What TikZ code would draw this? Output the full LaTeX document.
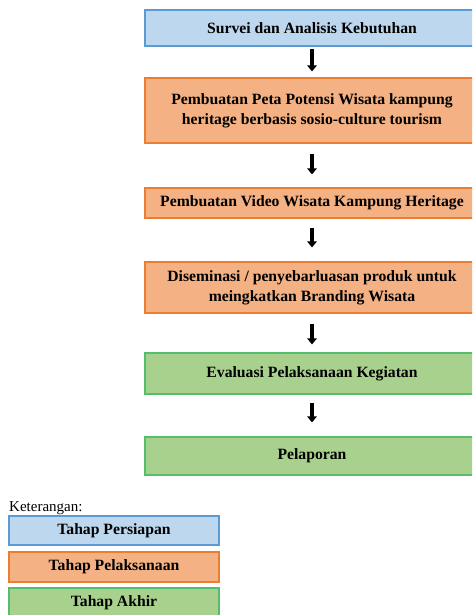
\documentclass[tikz,border=0pt]{standalone}
\usepackage{fontspec}
\setmainfont{Liberation Serif}
\definecolor{prepfill}{RGB}{189,215,238}
\definecolor{prepline}{RGB}{91,155,213}
\definecolor{implfill}{RGB}{244,177,131}
\definecolor{implline}{RGB}{237,125,49}
\definecolor{endfill}{RGB}{169,209,142}
\definecolor{endline}{RGB}{84,190,110}
\usetikzlibrary{arrows.meta,positioning}

\begin{document}
\begin{tikzpicture}[
        x=1pt, y=-1pt,
        every node/.style={font=\bfseries\fontsize{15.7}{20}\selectfont},
        box/.style={draw, line width=1.2pt, minimum width=334pt, inner sep=2pt, align=center},
        prep/.style={box, fill=prepfill, draw=prepline},
        impl/.style={box, fill=implfill, draw=implline},
        final/.style={box, fill=endfill, draw=endline},
        key/.style={minimum width=210pt, minimum height=29pt},
        flow/.style={-{Triangle[width=9.5pt,length=6pt]}, line width=4pt, black}
      ]
      \clip (0,0) rectangle (472,615);
      \useasboundingbox (0,0) rectangle (472,615);

      % main stages
      \node[prep, minimum height=36pt] (survei) at (312,28) {Survei dan Analisis Kebutuhan};
      \node[impl, minimum height=65pt] (peta) at (312,110.5) {Pembuatan Peta Potensi Wisata kampung\\heritage berbasis sosio-culture tourism};
      \node[impl, minimum height=30pt] (video) at (312,203) {Pembuatan Video Wisata Kampung Heritage};
      \node[impl, minimum height=51pt] (diseminasi) at (312,287.5) {Diseminasi / penyebarluasan produk untuk\\meingkatkan Branding Wisata};
      \node[final, minimum height=41pt] (evaluasi) at (312,373.5) {Evaluasi Pelaksanaan Kegiatan};
      \node[final, minimum height=38pt] (laporan) at (312,456) {Pelaporan};

      \draw[flow, shorten <=2pt, shorten >=6pt] (survei) -- (peta);
      \draw[flow, shorten <=10pt, shorten >=13pt] (peta) -- (video);
      \draw[flow, shorten <=9pt, shorten >=14pt] (video) -- (diseminasi);
      \draw[flow, shorten <=10pt, shorten >=8pt] (diseminasi) -- (evaluasi);
      \draw[flow, shorten <=8pt, shorten >=14pt] (evaluasi) -- (laporan);

      % legend
      \node[font=\fontsize{15}{17}\selectfont, anchor=south west, inner sep=0pt] (ket) at (9,515) {Keterangan:};
      \node[prep, key] (kprep) at (114,530.5) {Tahap Persiapan};
      \node[impl, key, minimum height=30pt] (kimpl) at (114,567) {Tahap Pelaksanaan};
      \node[final, key, minimum height=30pt] (kend) at (114,603) {Tahap Akhir};
    \end{tikzpicture}
\end{document}
